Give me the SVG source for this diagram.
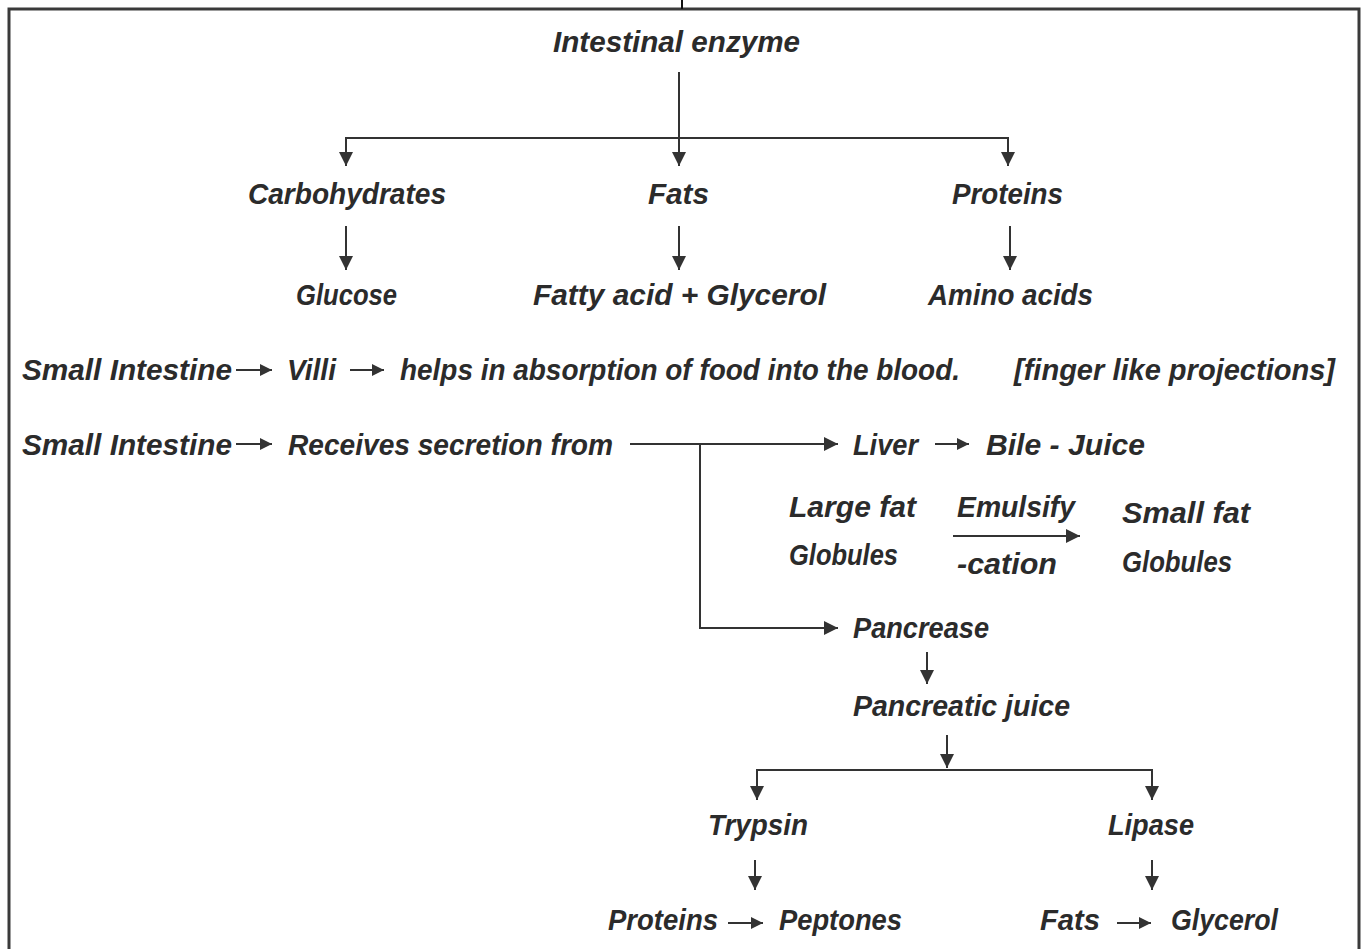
<svg xmlns="http://www.w3.org/2000/svg" width="1364" height="949" viewBox="0 0 1364 949">
<style>
  text { font-family: "Liberation Sans", Arial, sans-serif; font-style: italic; font-weight: bold; font-size: 30px; fill: #2b2b2b; }
  .c line, .c path { stroke: #333; stroke-width: 2; fill: none; }
  .frame { stroke: #3a3a3a; stroke-width: 3; fill: none; }
</style>
<defs>
  <marker id="ah" markerUnits="userSpaceOnUse" markerWidth="14" markerHeight="14" refX="14" refY="7" orient="auto">
    <path d="M0,0 L14,7 L0,14 z" fill="#333"/>
  </marker>
  <marker id="as" markerUnits="userSpaceOnUse" markerWidth="12" markerHeight="12" refX="12" refY="6" orient="auto">
    <path d="M0,0 L12,6 L0,12 z" fill="#333"/>
  </marker>
</defs>
<rect width="1364" height="949" fill="#fff"/>
<path class="frame" d="M9,960 L9,9 L1359,9 L1359,960"/>
<line x1="682" y1="0" x2="682" y2="9" stroke="#111" stroke-width="2"/>

<g class="c" id="connectors">
  <line x1="679" y1="72" x2="679" y2="166" marker-end="url(#ah)"/>
  <path d="M346,166 L346,138 L1008,138 L1008,166" />
  <line x1="346" y1="140" x2="346" y2="166" marker-end="url(#ah)"/>
  <line x1="1008" y1="140" x2="1008" y2="166" marker-end="url(#ah)"/>
  <line x1="346" y1="226" x2="346" y2="270" marker-end="url(#ah)"/>
  <line x1="679" y1="226" x2="679" y2="270" marker-end="url(#ah)"/>
  <line x1="1010" y1="226" x2="1010" y2="270" marker-end="url(#ah)"/>
  <line x1="236" y1="370" x2="272" y2="370" marker-end="url(#as)"/>
  <line x1="350" y1="370" x2="384" y2="370" marker-end="url(#as)"/>
  <line x1="236" y1="444" x2="272" y2="444" marker-end="url(#as)"/>
  <line x1="630" y1="444" x2="838" y2="444" marker-end="url(#ah)"/>
  <path d="M700,444 L700,628 L838,628" marker-end="url(#ah)"/>
  <line x1="935" y1="444" x2="969" y2="444" marker-end="url(#as)"/>
  <line x1="953" y1="536" x2="1080" y2="536" marker-end="url(#ah)"/>
  <line x1="927" y1="652" x2="927" y2="684" marker-end="url(#ah)"/>
  <line x1="947" y1="735" x2="947" y2="768" marker-end="url(#ah)"/>
  <path d="M757,800 L757,770 L1152,770 L1152,800"/>
  <line x1="757" y1="772" x2="757" y2="800" marker-end="url(#ah)"/>
  <line x1="1152" y1="772" x2="1152" y2="800" marker-end="url(#ah)"/>
  <line x1="755" y1="860" x2="755" y2="890" marker-end="url(#ah)"/>
  <line x1="1152" y1="860" x2="1152" y2="890" marker-end="url(#ah)"/>
  <line x1="728" y1="923" x2="763" y2="923" marker-end="url(#as)"/>
  <line x1="1117" y1="923" x2="1151" y2="923" marker-end="url(#as)"/>
</g>

<g id="intestinal-enzyme"><text x="553" y="52" textLength="247" lengthAdjust="spacingAndGlyphs">Intestinal enzyme</text></g>
<g id="carbohydrates"><text x="248" y="204" textLength="198" lengthAdjust="spacingAndGlyphs">Carbohydrates</text></g>
<g id="fats"><text x="648" y="204" textLength="61" lengthAdjust="spacingAndGlyphs">Fats</text></g>
<g id="proteins"><text x="952" y="204" textLength="111" lengthAdjust="spacingAndGlyphs">Proteins</text></g>
<g id="glucose"><text x="296" y="305" textLength="101" lengthAdjust="spacingAndGlyphs">Glucose</text></g>
<g id="fatty-acid"><text x="533" y="305" textLength="293" lengthAdjust="spacingAndGlyphs">Fatty acid + Glycerol</text></g>
<g id="amino-acids"><text x="928" y="305" textLength="165" lengthAdjust="spacingAndGlyphs">Amino acids</text></g>

<g id="villi-line">
  <text x="22" y="380" textLength="210" lengthAdjust="spacingAndGlyphs">Small Intestine</text>
  <text x="287" y="380" textLength="49" lengthAdjust="spacingAndGlyphs">Villi</text>
  <text x="400" y="380" textLength="560" lengthAdjust="spacingAndGlyphs">helps in absorption of food into the blood.</text>
  <text x="1014" y="380" textLength="321" lengthAdjust="spacingAndGlyphs">[finger like projections]</text>
</g>
<g id="secretion-line">
  <text x="22" y="455" textLength="210" lengthAdjust="spacingAndGlyphs">Small Intestine</text>
  <text x="288" y="455" textLength="325" lengthAdjust="spacingAndGlyphs">Receives secretion from</text>
</g>
<g id="liver">
  <text x="853" y="455" textLength="65" lengthAdjust="spacingAndGlyphs">Liver</text>
  <text x="986" y="455" textLength="159" lengthAdjust="spacingAndGlyphs">Bile - Juice</text>
</g>
<g id="emulsification">
  <text x="789" y="517" textLength="127" lengthAdjust="spacingAndGlyphs">Large fat</text>
  <text x="789" y="565" textLength="109" lengthAdjust="spacingAndGlyphs">Globules</text>
  <text x="957" y="517" textLength="118" lengthAdjust="spacingAndGlyphs">Emulsify</text>
  <text x="957" y="574" textLength="100" lengthAdjust="spacingAndGlyphs">-cation</text>
  <text x="1122" y="523" textLength="128" lengthAdjust="spacingAndGlyphs">Small fat</text>
  <text x="1122" y="572" textLength="110" lengthAdjust="spacingAndGlyphs">Globules</text>
</g>
<g id="pancrease"><text x="853" y="638" textLength="136" lengthAdjust="spacingAndGlyphs">Pancrease</text></g>
<g id="pancreatic-juice"><text x="853" y="716" textLength="217" lengthAdjust="spacingAndGlyphs">Pancreatic juice</text></g>
<g id="trypsin"><text x="708" y="835" textLength="100" lengthAdjust="spacingAndGlyphs">Trypsin</text></g>
<g id="lipase"><text x="1108" y="835" textLength="86" lengthAdjust="spacingAndGlyphs">Lipase</text></g>
<g id="proteins-peptones">
  <text x="608" y="930" textLength="110" lengthAdjust="spacingAndGlyphs">Proteins</text>
  <text x="779" y="930" textLength="123" lengthAdjust="spacingAndGlyphs">Peptones</text>
</g>
<g id="fats-glycerol">
  <text x="1040" y="930" textLength="60" lengthAdjust="spacingAndGlyphs">Fats</text>
  <text x="1171" y="930" textLength="107" lengthAdjust="spacingAndGlyphs">Glycerol</text>
</g>
</svg>
